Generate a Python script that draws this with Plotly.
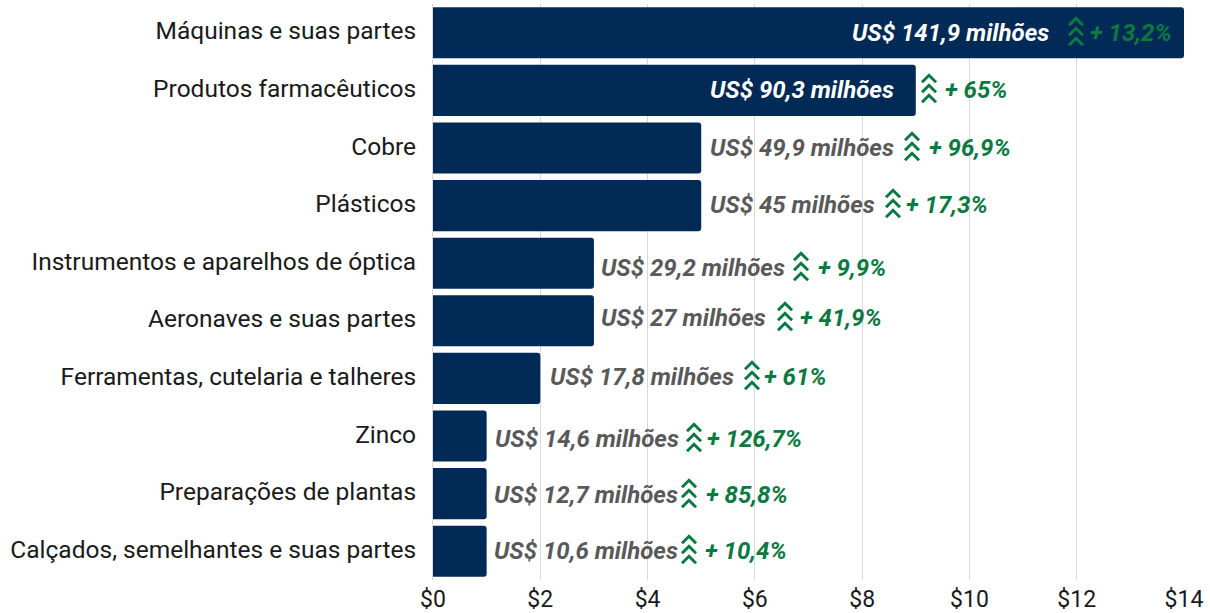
import plotly.graph_objects as go

# ---- data ----
categories = ["Máquinas e suas partes", "Produtos farmacêuticos", "Cobre", "Plásticos",
              "Instrumentos e aparelhos de óptica", "Aeronaves e suas partes",
              "Ferramentas, cutelaria e talheres", "Zinco", "Preparações de plantas",
              "Calçados, semelhantes e suas partes"]
values = [14, 9, 5, 5, 3, 3, 2, 1, 1, 1]
value_labels = ["US$ 141,9 milhões", "US$ 90,3 milhões", "US$ 49,9 milhões", "US$ 45 milhões",
                "US$ 29,2 milhões", "US$ 27 milhões", "US$ 17,8 milhões", "US$ 14,6 milhões",
                "US$ 12,7 milhões", "US$ 10,6 milhões"]
growth_labels = ["+ 13,2%", "+ 65%", "+ 96,9%", "+ 17,3%", "+ 9,9%", "+ 41,9%", "+ 61%",
                 "+ 126,7%", "+ 85,8%", "+ 10,4%"]
tick_values = [0, 2, 4, 6, 8, 10, 12, 14]
tick_labels = ["$0", "$2", "$4", "$6", "$8", "$10", "$12", "$14"]

# ---- layout of the hand-placed labels (pixel centres in the page) ----
W, H = 1210, 613
L, R, T, B = 433, 1184, 3.75, 579.75
label_cx = [950.5, 801.5, 801.5, 792, 693, 683, 641.5, 587, 585.5, 586]
label_cy = [33, 90, 148, 205, 268, 318, 377, 439, 495, 551]
arrow_cx = [1076, 929, 912, 893, 801, 785, 752, 694, 689, 689]
arrow_cy = [32, 89, 147, 204, 267, 317, 376, 438, 494, 550]
growth_cx = [1130.5, 976.5, 969.5, 947, 852, 841, 795, 754.5, 747, 745.5]
growth_cy = [33, 90, 148, 205, 268, 318, 377, 439, 495, 551]

NAVY = "#012a57"
GREEN = "#0a7a41"
GREY = "#595959"
FONT = "Roboto"

px2x = lambda p: (p - L) / (R - L) * 14
px2y = lambda p: 1 - (p - T) / (B - T)

fig = go.Figure(go.Bar(
    y=categories, x=values, orientation="h",
    marker=dict(color=NAVY, cornerradius=3, line=dict(width=0)),
    hoverinfo="skip",
))

annotations, shapes = [], []
chevrons = ""
for off in (14, 4, -6):
    chevrons += f"M-7,{off-7} L0,{off} L7,{off-7} "

for i in range(len(categories)):
    annotations.append(dict(
        x=px2x(label_cx[i]), y=px2y(label_cy[i]), xref="x", yref="paper",
        text=f"<b><i>{value_labels[i]}</i></b>", showarrow=False, xanchor="center", yanchor="middle",
        font=dict(family=FONT, size=24, color="#ffffff" if i < 2 else GREY)))
    annotations.append(dict(
        x=px2x(growth_cx[i]), y=px2y(growth_cy[i]), xref="x", yref="paper",
        text=f"<b><i>{growth_labels[i]}</i></b>", showarrow=False, xanchor="center", yanchor="middle",
        font=dict(family=FONT, size=24, color=GREEN)))
    shapes.append(dict(
        type="path", xref="x", yref="paper", xsizemode="pixel", ysizemode="pixel",
        xanchor=px2x(arrow_cx[i]), yanchor=px2y(arrow_cy[i]), path=chevrons,
        line=dict(color=GREEN, width=3), layer="above"))

fig.update_layout(
    width=W, height=H, paper_bgcolor="white", plot_bgcolor="white",
    margin=dict(l=L, r=W - R, t=T, b=H - B),
    bargap=0.113, showlegend=False,
    annotations=annotations, shapes=shapes,
    xaxis=dict(range=[0, 14], tickvals=tick_values, ticktext=tick_labels, showgrid=True,
               gridcolor="#d9d9d9", gridwidth=1, zeroline=False, showline=False, ticks="",
               ticklabelstandoff=3, automargin=False,
               tickfont=dict(family=FONT, size=23, color="#1a1a1a")),
    yaxis=dict(autorange="reversed", type="category", showgrid=False, zeroline=False,
               showline=True, linecolor="#d9d9d9", linewidth=1, ticks="", ticklabelstandoff=11,
               ticklabelshift=2, automargin=False,
               tickfont=dict(family=FONT, size=24.5, color="#1a1a1a")),
)
fig.write_html("out.html", post_script="document.body.style.margin='0';",
               config={"displayModeBar": False})
